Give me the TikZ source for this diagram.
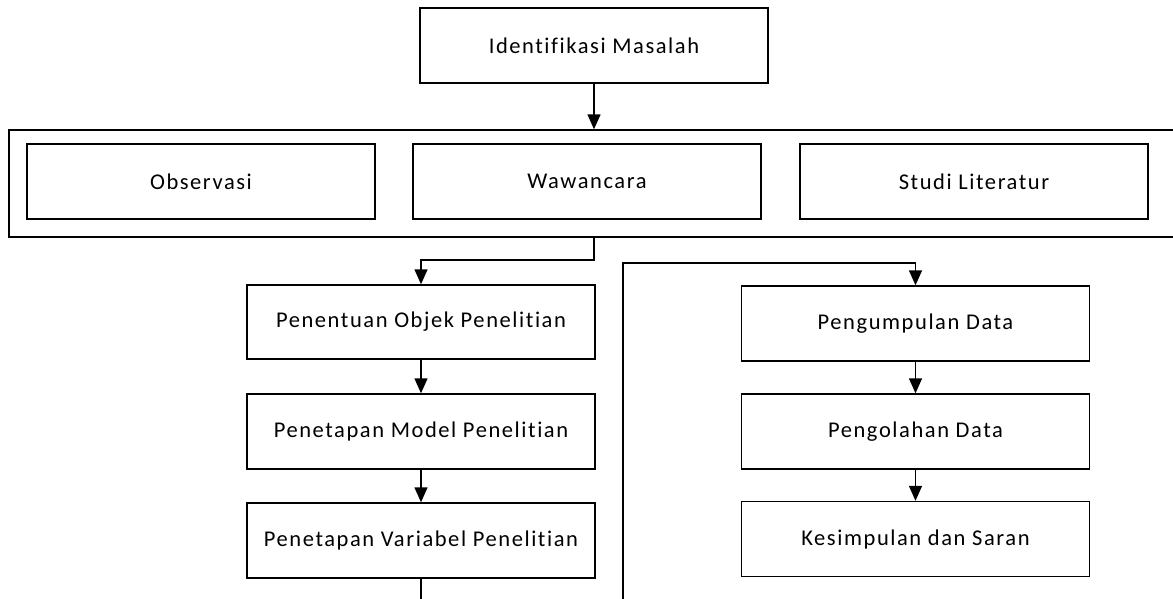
\documentclass[tikz,border=0pt]{standalone}
\usepackage{fontspec}
\setmainfont{Carlito}[LetterSpace=7,Ligatures={NoCommon}]
\usetikzlibrary{arrows.meta}
\begin{document}
\begin{tikzpicture}[x=1pt,y=-1pt,
  box/.style={draw,line width=1.4pt,minimum width=348pt,minimum height=75pt,inner sep=0pt,font=\fontsize{22.5}{26}\selectfont},
  arr/.style={line width=1.4pt,-{Triangle[width=13pt,length=15pt]}},
  ln/.style={line width=1.4pt}]
\useasboundingbox (0,0) rectangle (1173,598);
% top
\node[box] (top) at (594,45.5) {Identifikasi Masalah};
% group frame (right edge lies outside the page)
\node[draw,line width=1.4pt,minimum width=1171pt,minimum height=107pt,inner sep=0pt] (outer) at (594.5,183.5) {};
\node[box] (obs) at (201,181.5) {Observasi};
\node[box] (waw) at (587,181.5) {Wawancara};
\node[box] (stu) at (974,181.5) {Studi Literatur};
% left column
\node[box,minimum height=74pt] (p1) at (421,322) {Penentuan Objek Penelitian};
\node[box] (p2) at (421,431.5) {Penetapan Model Penelitian};
\node[box] (p3) at (421,540.5) {Penetapan Variabel Penelitian};
% right column
\node[box] (q1) at (915.5,323.5) {Pengumpulan Data};
\node[box] (q2) at (915.5,431.5) {Pengolahan Data};
\node[box] (q3) at (915.5,539) {Kesimpulan dan Saran};
% connectors
\draw[arr] (top.south) -- (top.south |- outer.north);
\coordinate (dropL) at (594,260);
\draw[arr] (outer.south -| top.south) -- (dropL) -| (p1.north);
\draw[arr] (p1.south) -- (p2.north);
\draw[arr] (p2.south) -- (p3.north);
\coordinate (endL) at (421,602);
\draw[ln] (p3.south) -- (endL);
\coordinate (startR) at (623,602);
\coordinate (bendR) at (623,263);
\draw[arr] (startR) -- (bendR) -| (q1.north);
\draw[arr] (q1.south) -- (q2.north);
\draw[arr] (q2.south) -- (q3.north);
\end{tikzpicture}
\end{document}
